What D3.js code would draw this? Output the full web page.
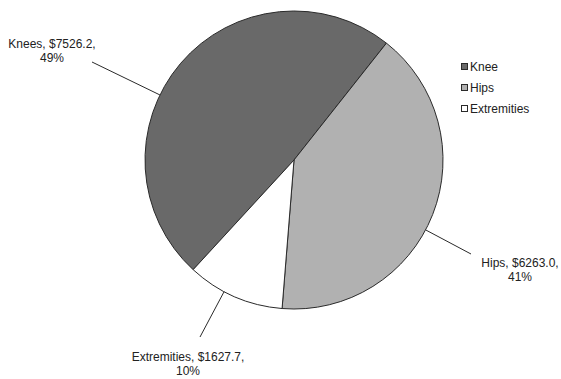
<!DOCTYPE html>
<html>
<head>
<meta charset="utf-8">
<script src="https://cdn.jsdelivr.net/npm/d3@7"></script>
<style>
  html, body { margin: 0; padding: 0; background: #fff; }
  svg text { font-family: "Liberation Sans", Arial, sans-serif; fill: #222; }
</style>
</head>
<body>
<svg id="chart" width="561" height="379"></svg>
<script>
// Spending by body region
const categories   = ["Knees", "Hips", "Extremities"];
const legendNames  = ["Knee", "Hips", "Extremities"];
const values       = [7526.2, 6263.0, 1627.7];
const percentLabels = ["49%", "41%", "10%"];
const colors       = ["#696969", "#b1b1b1", "#ffffff"];

const svg = d3.select("#chart");
const cx = 294, cy = 160, radius = 149;

const startDeg = -137.4;
const pie = d3.pie()
  .sort(null)
  .value(d => d)
  .startAngle(startDeg * Math.PI / 180)
  .endAngle((startDeg + 360) * Math.PI / 180);

const arcs = pie(values);
const arc = d3.arc().innerRadius(0).outerRadius(radius);

const g = svg.append("g").attr("transform", `translate(${cx},${cy})`);

g.selectAll("path.slice")
  .data(arcs)
  .enter().append("path")
  .attr("class", "slice")
  .attr("d", arc)
  .attr("fill", (d, i) => colors[i])
  .attr("stroke", "#2a2a2a")
  .attr("stroke-width", 1);

// Data label placement: text centre and the point where the leader line begins
const labelLayout = [
  { x: 52,  y: 48,  lx: 92,  ly: 62 },
  { x: 520, y: 267, lx: 471, ly: 254 },
  { x: 188, y: 361, lx: 200, ly: 337 }
];

const fmt = d3.format(".1f");

labelLayout.forEach((p, i) => {
  // leader runs to the nearest point on the rim
  const dx = p.lx - cx, dy = p.ly - cy;
  const len = Math.hypot(dx, dy);
  const ex = cx + dx / len * radius, ey = cy + dy / len * radius;
  svg.append("line")
    .attr("x1", p.lx).attr("y1", p.ly)
    .attr("x2", ex).attr("y2", ey)
    .attr("stroke", "#2a2a2a")
    .attr("stroke-width", 1);

  const t = svg.append("text")
    .attr("x", p.x).attr("y", p.y)
    .attr("text-anchor", "middle")
    .attr("font-size", 12);
  t.append("tspan").attr("x", p.x).attr("y", p.y)
    .text(`${categories[i]}, $${fmt(values[i])},`);
  t.append("tspan").attr("x", p.x).attr("y", p.y + 14)
    .text(percentLabels[i]);
});

// Legend
const legend = svg.append("g").attr("transform", "translate(461,63)");
const items = legend.selectAll("g.item")
  .data(legendNames)
  .enter().append("g")
  .attr("class", "item")
  .attr("transform", (d, i) => `translate(0,${i * 21})`);

items.append("rect")
  .attr("x", 0.5).attr("y", 0.5)
  .attr("width", 6).attr("height", 6)
  .attr("fill", (d, i) => colors[i])
  .attr("stroke", "#2a2a2a")
  .attr("stroke-width", 1);

items.append("text")
  .attr("x", 9).attr("y", 8)
  .attr("font-size", 12)
  .text(d => d);
</script>
</body>
</html>
